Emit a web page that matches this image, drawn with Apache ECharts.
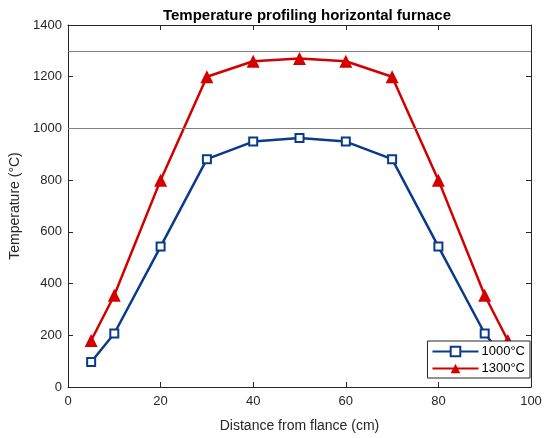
<!DOCTYPE html>
<html><head><meta charset="utf-8">
<script src="https://cdn.jsdelivr.net/npm/echarts@6/dist/echarts.min.js"></script>
<style>html,body{margin:0;padding:0;background:#fff}#c{width:546px;height:438px}</style>
</head><body><div id="c"></div>
<script>
const distance = [5, 10, 20, 30, 40, 50, 60, 70, 80, 90, 95];
const temp1000 = [97, 207, 543, 881, 949, 963, 949, 881, 543, 207, 97];
const temp1300 = [180, 355, 800, 1200, 1260, 1270, 1260, 1200, 800, 355, 180];
const refLines = [1000, 1300];
const seriesNames = ['1000°C', '1300°C'];

const font = 'Liberation Sans, Arial, sans-serif';
const txt = '#262626';
const axCol = '#262626';
const chart = echarts.init(document.getElementById('c'));
const pairs = (xs, ys) => xs.map((x, i) => [x, ys[i]]);
const hidden = {show:false};
chart.setOption({
  animation:false,
  textStyle:{fontFamily:font},
  title:{text:'Temperature profiling horizontal furnace', left:302, top:3, textAlign:'center',
    textStyle:{fontSize:15, fontWeight:'bold', color:'#000', fontFamily:font}},
  grid:{left:68, right:15, top:25, bottom:49},
  legend:{right:16, bottom:60, orient:'vertical', backgroundColor:'#fff', borderColor:'#262626', borderWidth:1,
    padding:[4,5,3,4], itemGap:4, itemWidth:46, itemHeight:12,
    textStyle:{fontSize:13, color:'#000', fontFamily:font, padding:[0,0,0,-2]}, data:seriesNames, z:10},
  xAxis:[{type:'value', min:0, max:100, interval:20, name:'Distance from flance (cm)', nameLocation:'middle', nameGap:32,
    nameTextStyle:{fontSize:14, color:txt},
    axisLine:{lineStyle:{color:axCol}}, axisTick:{inside:true, length:5, lineStyle:{color:axCol}},
    axisLabel:{fontSize:13, color:txt, margin:8}, splitLine:hidden},
   {type:'value', position:'top', min:0, max:100, interval:20,
    axisLine:{show:true, onZero:false, lineStyle:{color:axCol}}, axisTick:{inside:true, length:5, lineStyle:{color:axCol}},
    axisLabel:hidden, splitLine:hidden}],
  yAxis:[{type:'value', min:0, max:1400, interval:200, name:'Temperature (°C)', nameLocation:'middle', nameGap:38,
    nameTextStyle:{fontSize:14, color:txt},
    axisLine:{show:true, lineStyle:{color:axCol}}, axisTick:{show:true, inside:true, length:5, lineStyle:{color:axCol}},
    axisLabel:{fontSize:13, color:txt, margin:6, formatter:v => String(v)}, splitLine:hidden},
   {type:'value', position:'right', min:0, max:1400, interval:200,
    axisLine:{show:true, onZero:false, lineStyle:{color:axCol}}, axisTick:{show:true, inside:true, length:5, lineStyle:{color:axCol}},
    axisLabel:hidden, splitLine:hidden}],
  series:[
    {name:seriesNames[0], type:'line', data:pairs(distance, temp1000), symbol:'emptyRect', symbolSize:8,
     lineStyle:{width:2.5, color:'#0b3a8a'}, itemStyle:{color:'#0b3a8a', borderWidth:2},
     markLine:{silent:true, symbol:'none', label:{show:false}, lineStyle:{color:'#808080', width:1, type:'solid'},
       data:refLines.map(v => ({yAxis:v}))}},
    {name:seriesNames[1], type:'line', data:pairs(distance, temp1300), symbol:'triangle', symbolSize:13,
     lineStyle:{width:2.5, color:'#d40000'}, itemStyle:{color:'#d40000'}}
  ]
});
</script></body></html>
